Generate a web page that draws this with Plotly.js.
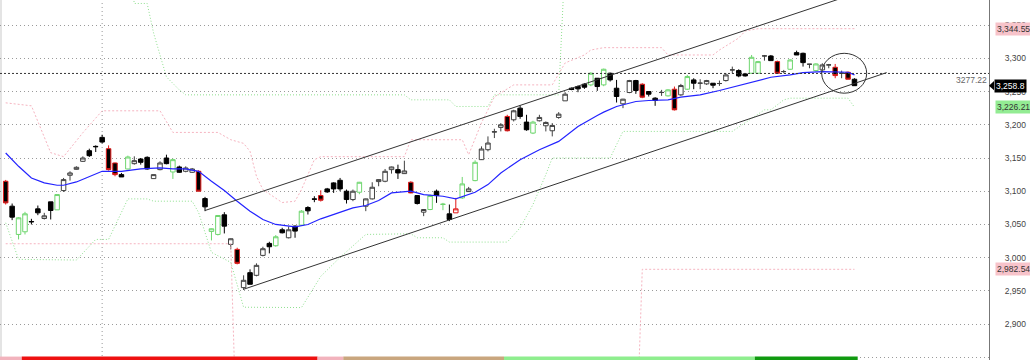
<!DOCTYPE html>
<html><head><meta charset="utf-8">
<script src="https://cdn.plot.ly/plotly-3.0.1.min.js"></script>
<style>html,body{margin:0;padding:0;background:#fff}#chart{width:1030px;height:360px}</style>
</head><body><div id="chart"></div>
<script>
// ---- candle data (index 0..132) ----
const openP = [3115,3077.5,3035,3039,3054.5,3073.5,3059,3084,3072,3101,
3124,3133,3145,3161,3167.5,3181,3164,3142.5,3125,3133.5,
3141.5,3148.5,3151,3119,3132.5,3150,3129,3136.5,3130,3128.5,
3130,3089,3039.5,3035,3064.5,3020,3012.5,2955,2977.5,2973.5,
3003.5,3021.5,3018,3042,3030,3047.5,3049,3075.5,3088.5,3093.5,
3103.5,3112.5,3116.5,3100,3087.5,3098.5,3077.5,3088.5,3114.5,3115,
3132.5,3132.5,3126.5,3113.5,3093.5,3068.5,3072.5,3100,3080,3066,
3067.5,3090,3099.5,3116,3147.5,3162.5,3189,3196,3212.5,3207.5,
3225,3204,3187.5,3206,3198.5,3191,3211,3236,3255,3257.5,
3261,3260,3270,3260,3277.5,3255,3231.5,3248.5,3266.5,3261,
3250,3240,3248.5,3243.5,3253.5,3245,3253.5,3267.5,3262.5,3261.5,
3262.5,3262,3266.5,3282.5,3281.5,3276.5,3277.5,3277.5,3303.5,3303.5,
3295,3280,3283.5,3308.5,3307.5,3291,3281.5,3282.5,3290,3286.5,
3277.5,3279,3268.5];
const highP = [3117,3081.5,3061,3069,3058.5,3078.5,3067.5,3084,3095,3120,
3130,3137.5,3152.5,3164,3169,3185,3169,3143,3127.5,3153.5,
3152.5,3150,3152.5,3125,3145,3155,3149,3138.5,3137.5,3135,
3131.5,3091.5,3044,3064,3068.5,3029,3015,2973.5,2982.5,2991.5,
3016.5,3024,3034,3045,3047,3048.5,3071.5,3077.5,3092.5,3101.5,
3105,3113.5,3120,3102.5,3102.5,3114,3089,3113.5,3118,3133.5,
3137,3140,3146,3115,3094,3073,3095,3102.5,3082.5,3080,
3090,3121.5,3106.5,3146.5,3167.5,3182.5,3194,3202.5,3215,3222.5,
3229,3215,3206,3215,3205,3202.5,3219,3249,3256,3259,
3262.5,3279,3270,3284.5,3278.5,3267.5,3239,3267.5,3267.5,3262.5,
3250,3241.5,3252.5,3253.5,3257.5,3261.5,3275,3270,3268.5,3267.5,
3262.5,3266.5,3277.5,3287.5,3283.5,3277.5,3305,3296,3305,3305,
3296.5,3282.5,3298.5,3311.5,3308.5,3291.5,3292.5,3292.5,3291.5,3291.5,
3281.5,3280,3270];
const lowP = [3080,3056.5,3027.5,3035,3050,3064,3057.5,3057.5,3072,3099,
3116,3132.5,3144,3151.5,3159,3172,3131,3122.5,3121.5,3133,
3140,3140,3132.5,3119,3131.5,3140.5,3118.5,3127.5,3128.5,3127.5,
3100,3070,3026,3033.5,3036.5,3012.5,2990,2951.5,2960,2972,
3002,3006.5,3016.5,3036.5,3029,3030,3048,3065,3083.5,3084.5,
3097.5,3097.5,3100,3081.5,3085,3095.5,3070,3087.5,3107.5,3113.5,
3126.5,3118.5,3126,3097,3080,3062.5,3071.5,3082.5,3071.5,3055,
3067.5,3088.5,3099,3115,3147,3160,3180,3190,3190,3205,
3209,3191,3186,3205,3190,3182.5,3209,3236,3252,3249,
3254,3258,3251,3258,3265,3233.5,3225,3247.5,3246.5,3240,
3242.5,3228.5,3243.5,3242.5,3221.5,3243.5,3252.5,3253.5,3253.5,3260,
3255,3258.5,3265,3277.5,3271.5,3272.5,3276.5,3277,3296.5,3296.5,
3276.5,3277.5,3282.5,3305,3287.5,3285,3280,3281.5,3285,3270,
3270,3268.5,3258.8];
const closeP = [3082.5,3061,3060,3066,3054,3067.5,3063,3071,3095,3117.5,
3127.5,3136,3150,3153.5,3167,3174,3132.5,3125,3121.5,3151.5,
3146,3143.5,3133.5,3125,3142.5,3141.5,3147.5,3128.5,3135,3133.5,
3100,3076.5,3043.5,3063.5,3047.5,3028.5,2991.5,2966,2960,2988.5,
3013.5,3016.5,3031.5,3037.5,3042,3040,3070,3070.5,3088,3086.5,
3099,3103.5,3103.5,3087.5,3100,3113.5,3088.5,3106,3117.5,3130,
3136.5,3127.5,3130.5,3097.5,3081.5,3072.5,3093.5,3093.5,3080.5,3057.5,
3073.5,3111,3103.5,3143.5,3163.5,3172.5,3189.5,3200,3191,3221,
3212.5,3192.5,3204,3211,3203.5,3199,3216,3246,3253,3254,
3256.5,3277.5,3257.5,3283.5,3267.5,3242.5,3238.5,3266.5,3251.5,3241.5,
3246,3236.5,3248.6,3252.5,3222.5,3259,3272.5,3262.5,3262.6,3266.5,
3259.5,3262.1,3275,3282.6,3273.5,3273.5,3301.5,3295,3303.6,3296.5,
3277.5,3280.1,3297.5,3305,3293.5,3291.1,3291.5,3290,3290.1,3274,
3277.6,3268.5,3258.8];
// n = normal, g = green-highlighted, r = red-highlighted
const candleTag = ("r n g g n n n n g n n n n n n n r r n g n n n n n n g n n n " +
"r n g g n n r n n n n n g n n n g n n r n n n n n g n n n n " +
"n n n r n n g n g n r g n g n n n n r n n n g n n n n n n n " +
"n g n g n n n n n r n n n g r n g n n n n n n n n n g g n n " +
"r n g n n n g n n r n r n").split(" ");

// ---- moving average (blue) ----
const maIdx = [0,2,4,6,8,9,11,13,15,18,21,24,26,28,30,32,34,36,37,38,40,42,45,47,49,52,54,56,58,60,63,65,68,70,71,73,75,77,80,83,86,89,92,93,95,98,100,103,105,108,111,115,119,122,124,127,129,131,132];
const maVal = [3157.5,3137.5,3120,3112.5,3109,3109,3114,3121.5,3130,3130,3133.5,3135,3133.5,3133.5,3130,3115,3101,3085,3077,3070,3057.5,3050,3046.5,3050,3058.5,3068.5,3075,3078.5,3086,3097.5,3100,3095,3092.5,3088.5,3091.5,3098.5,3110,3127.5,3147.5,3162.5,3175,3197.5,3214,3219,3227.5,3235,3236.5,3237.5,3241.5,3245,3251.5,3261.5,3271.5,3275,3278.5,3280,3280,3279,3275];

// ---- channel bands ----
const pinkUpIdx = [0,4,7,9,12,15,24,26,33,35,37,38,39,40,43,45,46,48,49,62,63,71,72,74,76,79,85,87,90,91,93,102,103,110,111,113,114,115,117,132];
const pinkUpVal = [3233,3228.5,3158,3152,3188,3221,3221,3188.5,3188.5,3177.5,3172,3160,3122.5,3102.5,3083,3085,3102.5,3147.5,3152,3152,3177.5,3177.5,3155,3203,3242,3260,3260,3293,3305,3312.5,3316,3316,3305,3305,3312.5,3324.5,3330.5,3341,3344.55,3344.55];
const pinkLowIdx = [0,35,36,98,99,132];
const pinkLowVal = [3021,3021,2700,2700,2982.54,2982.54];
const greenUpIdx = [0,19,20,22,23,25,27,28,62,63,69,70,75,76,86,87,132];
const greenUpVal = [3450,3450,3382.5,3382.5,3338,3272,3252.5,3245,3245,3237.5,3237.5,3227.5,3227.5,3245,3245,3450,3450];
const greenLowIdx = [0,2,11,14,16,19,22,23,29,30,32,35,37,46,49,52,56,63,64,68,69,78,80,82,84,85,94,96,113,118,119,121,122,131,132];
const greenLowVal = [3052.5,2997.5,2996.5,3027.5,3027.5,3088.5,3088.5,3085,3085,3068,3008,2993,2925.5,2925,2972,3000.5,3035,3036,3030,3030,3023.5,3023.5,3045,3080,3125,3150,3150,3190,3190,3222.5,3222.5,3237.5,3240,3240,3226.21];

// ---- trend channel & markers ----
const upperTrend = {i:[31,137], v:[3071,3413]};
const lowerTrend = {i:[37,137], v:[2952.5,3278.5]};
const circleBox = {i:[126.9,133.9], v:[3247.5,3307.5]};
const refLevel = 3277.22;
const lastClose = 3258.8;
const tagLevels = [{v:3344.55, kind:'upper'}, {v:3226.21, kind:'lower'}, {v:2982.54, kind:'upper'}];
const periodBreak = 15;

// ---- regime strip ----
const stripStart = [0,3,49,53,78,117];
const stripEnd = [2,48,52,77,116,132];
const stripRegime = ['weakDown','down','weakDown','flat','weakUp','up'];

// ================= drawing =================
const FONT = 'Liberation Sans, Arial, sans-serif';
const xr = [-0.886, 152.92];
const yr = [2846.1, 3387.7];
const styles = {
  n: {inc:{line:{color:'#404040',width:1}, fillcolor:'#ffffff'}, dec:{line:{color:'#000000',width:1}, fillcolor:'#000000'}},
  g: {inc:{line:{color:'#6fd66f',width:1}, fillcolor:'#ffffff'}, dec:{line:{color:'#6fd66f',width:1}, fillcolor:'#ffffff'}},
  r: {inc:{line:{color:'#e01818',width:1}, fillcolor:'#ffffff'}, dec:{line:{color:'#e01818',width:1}, fillcolor:'#000000'}}
};
const traces = [];
function band(ix, v, color, dash){
  traces.push({type:'scatter', mode:'lines', x:ix, y:v, line:{color:color, width:1, dash:dash}, hoverinfo:'skip'});
}
band(pinkUpIdx, pinkUpVal, '#f6b4c0', '2px,2px');
band(pinkLowIdx, pinkLowVal, '#f6b4c0', '2px,2px');
band(greenUpIdx, greenUpVal, '#8fe08f', '1px,2px');
band(greenLowIdx, greenLowVal, '#8fe08f', '1px,2px');

['n','g','r'].forEach(tag => {
  const ids = [];
  candleTag.forEach((t,i) => { if (t === tag) ids.push(i); });
  traces.push({
    type:'candlestick', x:ids,
    open:ids.map(i=>openP[i]), high:ids.map(i=>highP[i]),
    low:ids.map(i=>lowP[i]), close:ids.map(i=>closeP[i]),
    increasing:styles[tag].inc, decreasing:styles[tag].dec,
    whiskerwidth:0, hoverinfo:'skip'
  });
});
traces.push({type:'scatter', mode:'lines', x:maIdx, y:maVal, line:{color:'#2323ff', width:1.2}, hoverinfo:'skip'});

const stripColors = {weakDown:'#f2b3bd', down:'#ee1111', flat:'#c9a67e', weakUp:'#8fee8f', up:'#109a10'};
const shapes = [];
shapes.push({type:'rect', xref:'paper', yref:'paper', x0:0, x1:0.002, y0:0, y1:1, fillcolor:'#e4e4e4', line:{width:0}, layer:'below'});
shapes.push({type:'line', xref:'x', yref:'paper', x0:periodBreak, x1:periodBreak, y0:0, y1:1, line:{color:'#999', width:1, dash:'1px,3px'}, layer:'below'});
shapes.push({type:'line', xref:'paper', yref:'y', x0:0, x1:1, y0:refLevel, y1:refLevel, line:{color:'#333', width:1, dash:'2px,2px'}});
shapes.push({type:'line', xref:'x', yref:'y', x0:upperTrend.i[0], x1:upperTrend.i[1], y0:upperTrend.v[0], y1:upperTrend.v[1], line:{color:'#333', width:1}});
shapes.push({type:'line', xref:'x', yref:'y', x0:lowerTrend.i[0], x1:lowerTrend.i[1], y0:lowerTrend.v[0], y1:lowerTrend.v[1], line:{color:'#333', width:1}});
shapes.push({type:'circle', xref:'x', yref:'y', x0:circleBox.i[0], x1:circleBox.i[1], y0:circleBox.v[0], y1:circleBox.v[1], line:{color:'#333', width:1}});
stripStart.forEach((s,k) => {
  shapes.push({type:'rect', xref:'x', yref:'paper', x0:(k===0?xr[0]:s-0.5), x1:stripEnd[k]+0.5, y0:0, y1:0.0095, fillcolor:stripColors[stripRegime[k]], line:{width:0}});
});
// pointer of last price tag
const pxPaper = 1/989;
shapes.push({type:'path', xref:'paper', yref:'y', path:`M 1 ${lastClose} L ${1+5*pxPaper} ${lastClose+7} L ${1+5*pxPaper} ${lastClose-7} Z`, fillcolor:'#000', line:{width:0}});

const annotations = [];
tagLevels.forEach(t => {
  annotations.push({xref:'paper', yref:'y', x:1, y:t.v, xanchor:'left', yanchor:'middle', xshift:6, showarrow:false,
    text:t.v.toLocaleString('en-US',{minimumFractionDigits:2}), bgcolor: t.kind==='upper' ? '#f7c3ca' : '#93ec93',
    borderpad:1, font:{family:FONT, size:8.5, color:'#333'}});
});
annotations.push({xref:'paper', yref:'y', x:1, y:lastClose, xanchor:'left', yanchor:'middle', xshift:5, showarrow:false,
  text:lastClose.toLocaleString('en-US',{minimumFractionDigits:1}), bgcolor:'#000', borderpad:1, font:{family:FONT, size:8.5, color:'#fff'}});
annotations.push({xref:'paper', yref:'y', x:1, y:refLevel, xanchor:'right', yanchor:'top', xshift:0, yshift:0, showarrow:false,
  text:String(refLevel), font:{family:FONT, size:8.5, color:'#666'}});

const layout = {
  width:1030, height:360,
  margin:{l:0, r:41, t:0, b:0, pad:0},
  paper_bgcolor:'#fff', plot_bgcolor:'#fff',
  showlegend:false, boxgap:0.3, boxgroupgap:0,
  xaxis:{range:xr, visible:false, rangeslider:{visible:false}, fixedrange:true},
  yaxis:{range:yr, side:'right', dtick:50, tick0:0, tickformat:',.0f', showgrid:true, gridcolor:'#9a9a9a', griddash:'1px,3px', gridwidth:1,
    showline:true, linecolor:'#777', linewidth:1, ticks:'', zeroline:false, ticklabelstandoff:13,
    tickfont:{family:FONT, size:8.5, color:'#444'}, fixedrange:true},
  shapes:shapes, annotations:annotations
};
Plotly.newPlot('chart', traces, layout, {displayModeBar:false, staticPlot:true});
</script></body></html>
